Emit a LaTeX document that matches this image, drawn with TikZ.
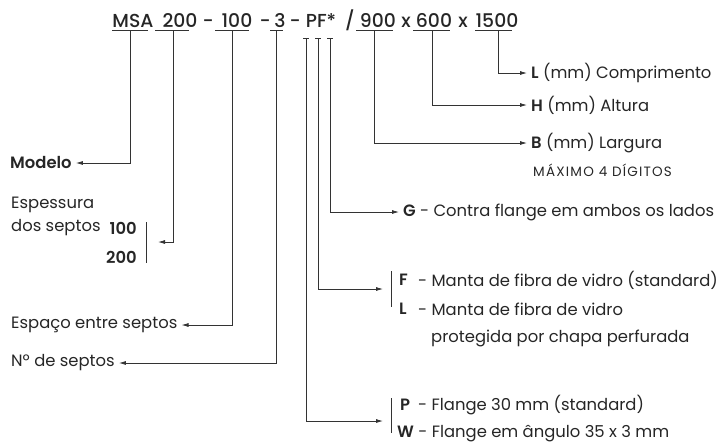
\documentclass[tikz,border=0pt]{standalone}
\usepackage{fontspec}
\setmainfont{Poppins}[BoldFont={Poppins SemiBold}]
\newfontfamily\titlefont{Poppins Medium}
\usetikzlibrary{arrows.meta}

\tikzset{
  lbl/.style={anchor=west, inner sep=0pt, font=\fontsize{16.4}{19}\selectfont, text=black!85},
  small/.style={lbl, font=\fontsize{13.5}{15}\selectfont\addfontfeatures{LetterSpace=9}},
  tok/.style={anchor=base, inner sep=0pt, font=\fontsize{18.8}{22}\titlefont, text=black!85},
  con/.style={draw=black!80, line width=0.8pt},
  arr/.style={con, -{Latex[length=7pt,width=4pt]}, shorten >=4pt},
}

\begin{document}
\begin{tikzpicture}[x=1pt,y=-1pt]
  \useasboundingbox (0,0) rectangle (720,445);

  % code line
  \foreach \x/\t [count=\i] in {133/MSA, 180/200, 208/-, 237/100, 265/-, 280/3,
      295/-, 321/PF*, 350/{/}, 378/900, 406/x, 434/600, 463/x, 497/1500}
    \node[tok] (t\i) at (\x,27.5) {\t};
  \foreach \a/\b in {112/148,155/189,215/249,270/283,356/393,413/450,475/512}
    \draw[con] (\a,30) -- (\b,30);
  \foreach \x in {306,318,330}
    \draw[con] (\x-3,38) -- (\x+3,38);

  % drop points
  \coordinate (dMSA) at (130,30);
  \coordinate (d200) at (173,30);
  \coordinate (d100) at (232,30);
  \coordinate (d3) at (276,30);
  \coordinate (dP) at (306,38);
  \coordinate (dF) at (318,38);
  \coordinate (dG) at (330,38);
  \coordinate (d900) at (374,30);
  \coordinate (d600) at (432,30);
  \coordinate (d1500) at (498,30);

  % right side
  \node[lbl] (lenL) at (531,73) {\textbf{L} (mm) Comprimento};
  \node[lbl] (lenH) at (531,105) {\textbf{H} (mm) Altura};
  \node[lbl] (lenB) at (531,143) {\textbf{B} (mm) Largura};
  \node[small] (maxdig) at (533,170) {MÁXIMO 4 DÍGITOS};
  \node[lbl] (optG) at (403,212) {\textbf{G} - Contra flange em ambos os lados};

  \node[lbl] (optF) at (399,280) {\textbf{F}};
  \node[lbl] (txtF) at (418,280) {- Manta de fibra de vidro (standard)};
  \node[lbl] (optL) at (399,309) {\textbf{L}};
  \node[lbl] (txtL) at (418,309) {- Manta de fibra de vidro};
  \node[lbl] (txtL2) at (431,338) {protegida por chapa perfurada};
  \coordinate (inF) at (387,289);
  \draw[con] (391,271) -- (391,307);

  \node[lbl] (optP) at (400,405) {\textbf{P}};
  \node[lbl] (txtP) at (418,405) {- Flange 30 mm (standard)};
  \node[lbl] (optW) at (397,434) {\textbf{W} - Flange em ângulo 35 x 3 mm};
  \coordinate (inP) at (387,421);
  \draw[con] (391,398) -- (391,433);

  % left side
  \node[lbl] (modelo) at (10,163) {\textbf{Modelo}};
  \node[lbl] (esp) at (11,205) {Espessura};
  \node[lbl] (dos) at (11,228) {dos septos};
  \node[lbl, anchor=east] (v100) at (137,228) {\textbf{100}};
  \node[lbl, anchor=east] (v200) at (137,257) {\textbf{200}};
  \coordinate (in200) at (154,242);
  \draw[con] (146,222) -- (146,263);
  \node[lbl] (espaco) at (11,325) {Espaço entre septos};
  \node[lbl] (nsep) at (11,363) {Nº de septos};

  % connectors
  \draw[arr] (d1500) |- (lenL.west);
  \draw[arr] (d600) |- (lenH.west);
  \draw[arr] (d900) |- (lenB.west);
  \draw[arr] (dG) |- (optG.west);
  \draw[arr] (dF) |- (inF);
  \draw[arr] (dP) |- (inP);
  \draw[arr] (dMSA) |- (modelo.east);
  \draw[arr] (d200) |- (in200);
  \draw[arr] (d100) |- (espaco.east);
  \draw[arr] (d3) |- (nsep.east);
\end{tikzpicture}
\end{document}
